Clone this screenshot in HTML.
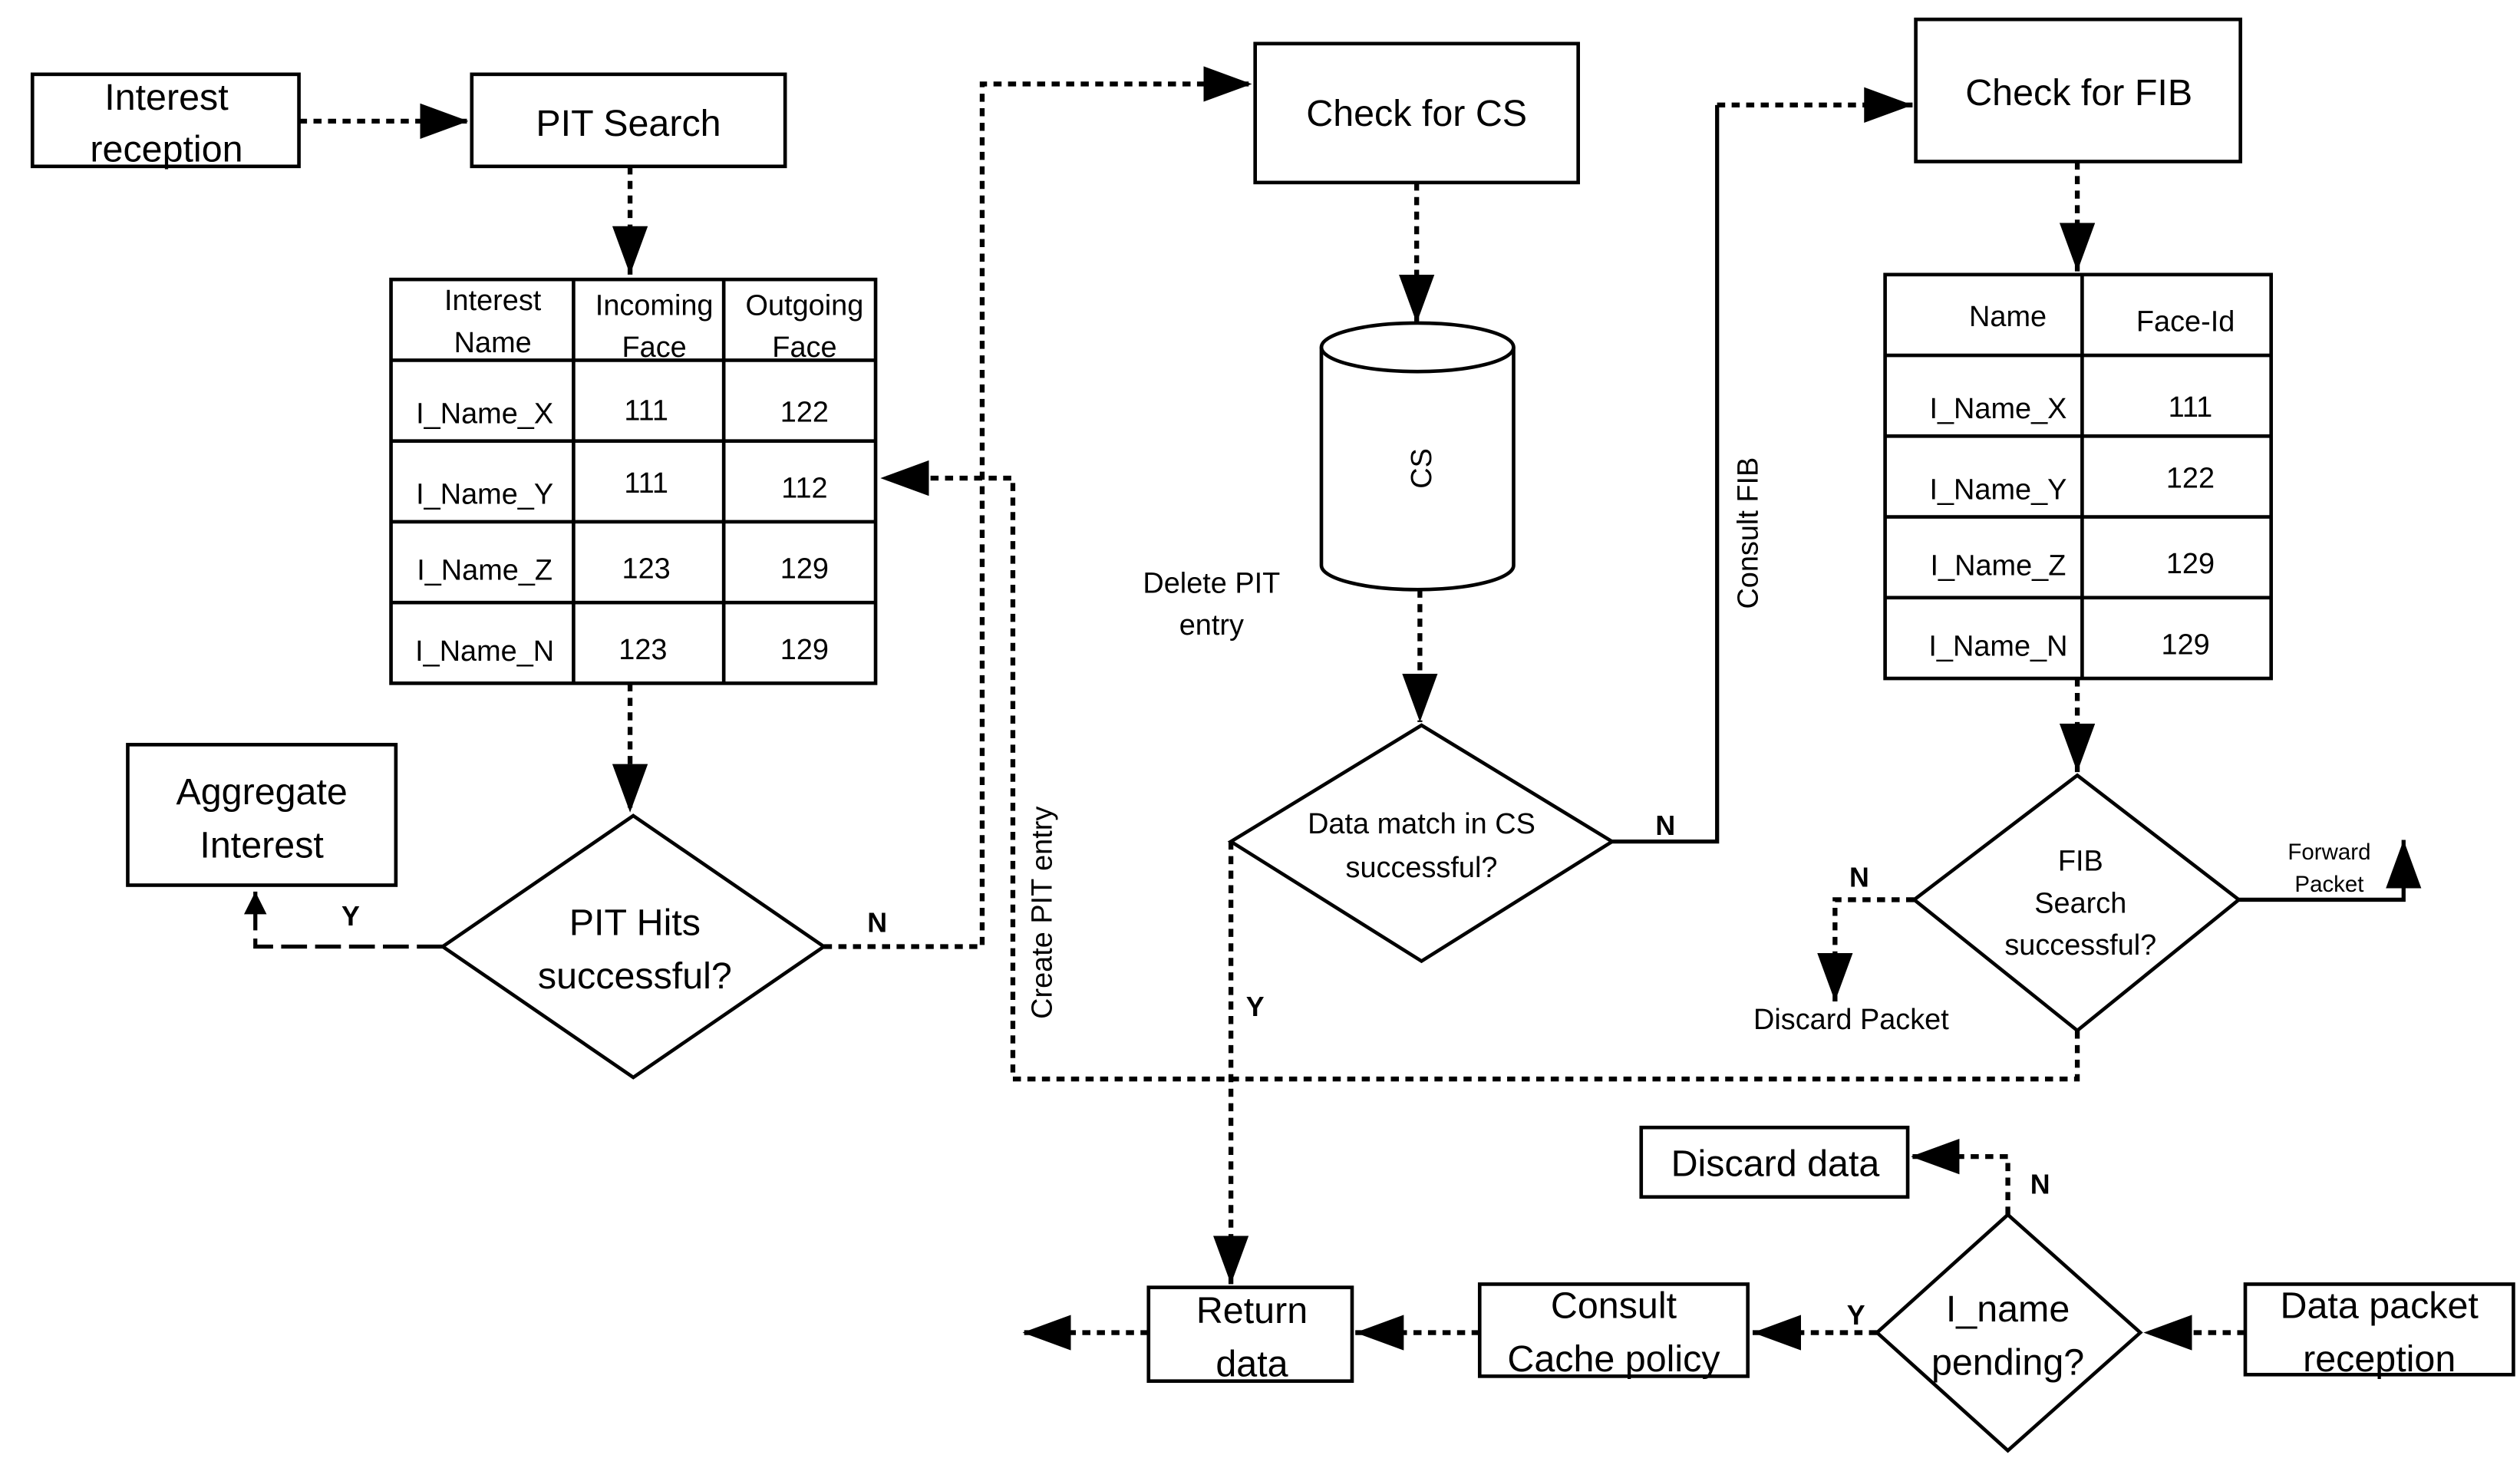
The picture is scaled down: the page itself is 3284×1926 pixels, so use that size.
<!DOCTYPE html>
<html><head><meta charset="utf-8"><style>
html,body{margin:0;padding:0;background:#fff}
svg{display:block}
text{font-family:"Liberation Sans",sans-serif;fill:#000}
</style></head><body>
<svg width="3284" height="1926" viewBox="0 0 1560 915" xmlns="http://www.w3.org/2000/svg">
<defs>
<marker id="a" markerWidth="10" markerHeight="8" refX="9" refY="4" orient="auto" markerUnits="userSpaceOnUse" viewBox="0 0 10 8">
<path d="M0,0 L10,4 L0,8 z" fill="#000"/></marker>
<marker id="b" markerWidth="30" markerHeight="22" refX="30" refY="11" orient="auto" markerUnits="userSpaceOnUse" viewBox="0 0 30 22">
<path d="M0,0 L30,11 L0,22 z" fill="#000"/></marker>
<marker id="s" markerWidth="14" markerHeight="14" refX="14" refY="7" orient="auto" markerUnits="userSpaceOnUse" viewBox="0 0 14 14">
<path d="M0,0 L14,7 L0,14 z" fill="#000"/></marker>
</defs>
<g fill="none" stroke="#000" stroke-width="2.2">
<rect x="20" y="46" width="165" height="57"/>
<rect x="292" y="46" width="194" height="57"/>
<rect x="79" y="461" width="166" height="87"/>
<rect x="777" y="27" width="200" height="86"/>
<rect x="1186" y="12" width="201" height="88"/>
<rect x="1016" y="698" width="165" height="43"/>
<rect x="1390" y="795" width="166" height="56"/>
<rect x="916" y="795" width="166" height="57"/>
<rect x="711" y="797" width="126" height="58"/>
<!-- PIT table -->
<rect x="242" y="173" width="300" height="250"/>
<path d="M355 173V423M448 173V423M242 223H542M242 273H542M242 323H542M242 373H542"/>
<!-- FIB table -->
<rect x="1167" y="170" width="239" height="250"/>
<path d="M1289 170V420M1167 220H1406M1167 270H1406M1167 320H1406M1167 370H1406"/>
<!-- diamonds -->
<path d="M392 505L510 586L392 667L274 586Z"/>
<path d="M880 449L998 521L880 595L762 521Z"/>
<path d="M1286 480L1386 557L1286 638L1185 557Z"/>
<path d="M1243 752L1325 825L1243 898L1162 825Z"/>
<!-- cylinder -->
<path d="M818 215V350A59.5 15 0 0 0 937 350V215"/>
<ellipse cx="877.5" cy="215" rx="59.5" ry="15"/>
</g>
<!-- dotted connectors -->
<g fill="none" stroke="#000" stroke-width="3" stroke-dasharray="5,4">
<path d="M185 75H290" marker-end="url(#b)"/>
<path d="M390 103V170" marker-end="url(#b)"/>
<path d="M390 423V503" marker-end="url(#b)"/>
<path d="M510 586H608V52H775" marker-end="url(#b)"/>
<path d="M877 113V200" marker-end="url(#b)"/>
<path d="M879 365V447" marker-end="url(#b)"/>
<path d="M1063 65H1184" marker-end="url(#b)"/>
<path d="M762 521V795" marker-end="url(#b)"/>
<path d="M1286 100V168" marker-end="url(#b)"/>
<path d="M1286 420V478" marker-end="url(#b)"/>
<path d="M1185 557H1136V620" marker-end="url(#b)"/>
<path d="M1286 638V668H627V296H545" marker-end="url(#b)"/>
<path d="M1243 752V716H1183" marker-end="url(#b)"/>
<path d="M1390 825H1327" marker-end="url(#b)"/>
<path d="M1162 825H1085" marker-end="url(#b)"/>
<path d="M916 825H839" marker-end="url(#b)"/>
<path d="M711 825H633" marker-end="url(#b)"/>
</g>
<g fill="none" stroke="#000" stroke-width="2.5">
<path d="M274 586H158V552" stroke-dasharray="16,5" marker-end="url(#s)"/>
<path d="M998 521H1063V65"/>
<path d="M1386 557H1488V520" marker-end="url(#b)"/>
</g>
<!-- text -->
<g font-size="23" text-anchor="middle">
<text x="103" y="68">Interest</text><text x="103" y="100">reception</text>
<text x="389" y="84">PIT Search</text>
<text x="162" y="498">Aggregate</text><text x="162" y="531">Interest</text>
<text x="877" y="78">Check for CS</text>
<text x="1287" y="65">Check for FIB</text>
<text x="1099" y="728">Discard data</text>
<text x="1473" y="816">Data packet</text><text x="1473" y="849">reception</text>
<text x="999" y="816">Consult</text><text x="999" y="849">Cache policy</text>
<text x="775" y="819">Return</text><text x="775" y="852">data</text>
<text x="393" y="579">PIT Hits</text><text x="393" y="612">successful?</text>
<text x="1243" y="818">I_name</text><text x="1243" y="851">pending?</text>
</g>
<g font-size="18" text-anchor="middle">
<text x="305" y="192">Interest</text><text x="305" y="218">Name</text>
<text x="405" y="195">Incoming</text><text x="405" y="221">Face</text>
<text x="498" y="195">Outgoing</text><text x="498" y="221">Face</text>
<text x="300" y="262">I_Name_X</text><text x="400" y="260">111</text><text x="498" y="261">122</text>
<text x="300" y="312">I_Name_Y</text><text x="400" y="305">111</text><text x="498" y="308">112</text>
<text x="300" y="359">I_Name_Z</text><text x="400" y="358">123</text><text x="498" y="358">129</text>
<text x="300" y="409">I_Name_N</text><text x="398" y="408">123</text><text x="498" y="408">129</text>
<text x="1243" y="202">Name</text><text x="1353" y="205">Face-Id</text>
<text x="1237" y="259">I_Name_X</text><text x="1356" y="258">111</text>
<text x="1237" y="309">I_Name_Y</text><text x="1356" y="302">122</text>
<text x="1237" y="356">I_Name_Z</text><text x="1356" y="355">129</text>
<text x="1237" y="406">I_Name_N</text><text x="1353" y="405">129</text>
<text x="880" y="516">Data match in CS</text><text x="880" y="543">successful?</text>
<text x="1288" y="539">FIB</text><text x="1288" y="565">Search</text><text x="1288" y="591">successful?</text>
<text x="750" y="367">Delete PIT</text><text x="750" y="393">entry</text>
<text x="1146" y="637">Discard Packet</text>
<text transform="translate(886,290) rotate(-90)">CS</text>
<text transform="translate(1088,330) rotate(-90)">Consult FIB</text>
<text transform="translate(651,565) rotate(-90)">Create PIT entry</text>
</g>
<g font-size="14" text-anchor="middle">
<text x="1442" y="532">Forward</text><text x="1442" y="552">Packet</text>
</g>
<g font-size="17" font-weight="bold" text-anchor="middle">
<text x="217" y="573">Y</text>
<text x="543" y="577">N</text>
<text x="1031" y="517">N</text>
<text x="777" y="629">Y</text>
<text x="1151" y="549">N</text>
<text x="1263" y="739">N</text>
<text x="1149" y="820">Y</text>
</g>
</svg>
</body></html>
